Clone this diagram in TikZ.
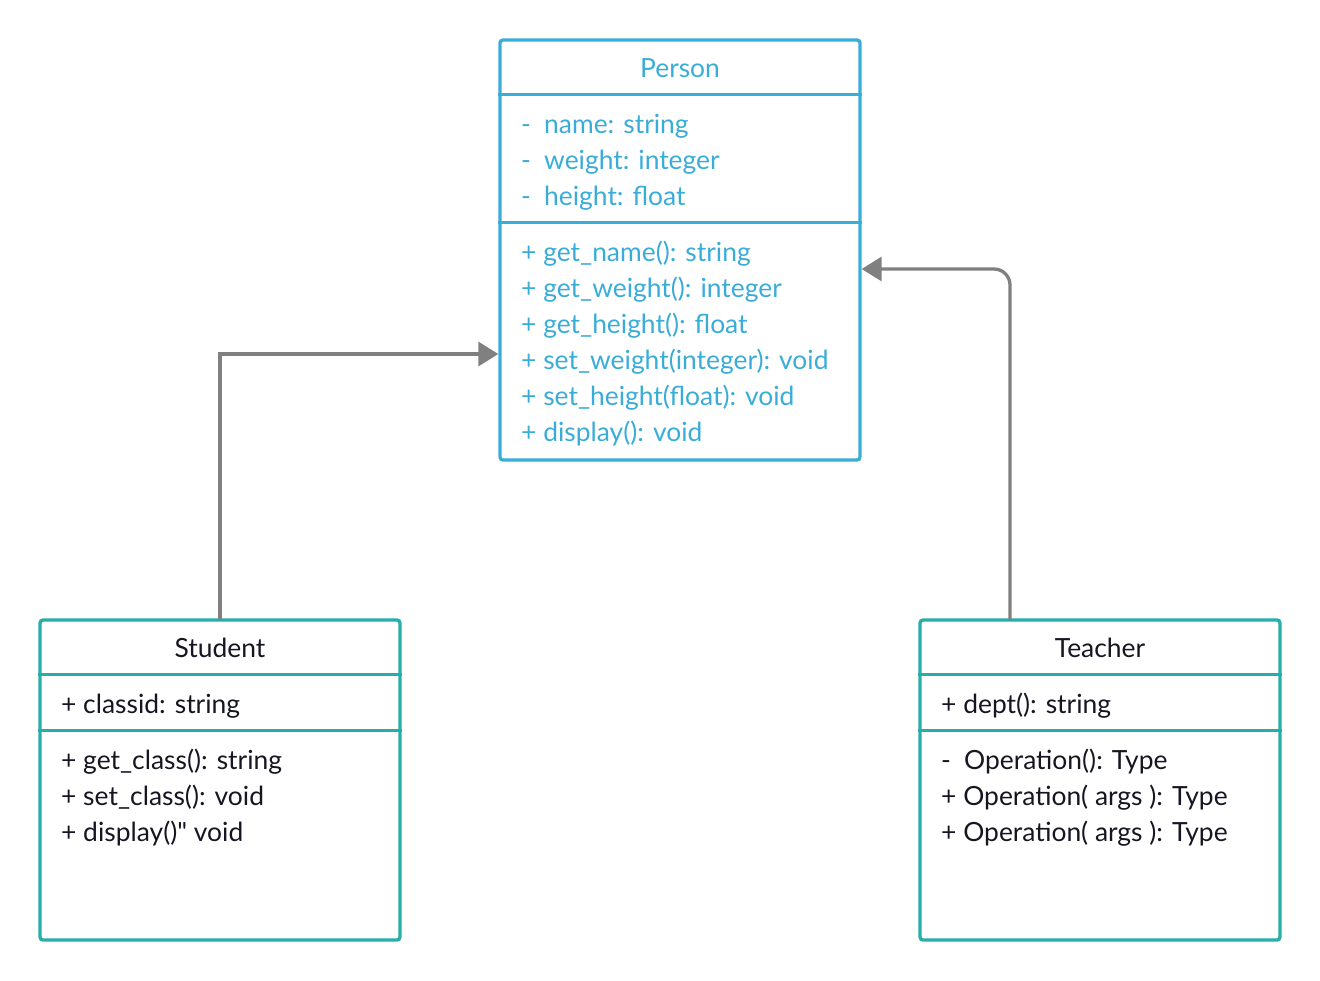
\documentclass[tikz,border=0pt]{standalone}
\usepackage{fontspec}
\setmainfont{Lato}
\newfontfamily\plainlato{Lato}
\usetikzlibrary{arrows.meta}
\definecolor{pblue}{RGB}{58,172,216}
\definecolor{teal2}{RGB}{38,174,170}
\definecolor{ink}{RGB}{22,22,34}
\definecolor{conn}{RGB}{128,128,128}
\begin{document}
\begin{tikzpicture}[x=1bp,y=-1bp,
  umlbox/.style={draw, line width=3.3bp, rounded corners=3bp, inner sep=0pt, minimum width=360bp},
  sep/.style={line width=3.3bp},
  txt/.style={inner sep=0pt, anchor=mid west, font=\fontsize{26.5}{30}\selectfont},
  ttl/.style={inner sep=0pt, anchor=mid, font=\fontsize{26.5}{30}\selectfont},
  conn/.style={draw=conn, line width=3.3bp, -{Triangle[length=20bp,width=24bp]}}
]
\useasboundingbox (0,0) rectangle (1320,980);
% Person
\node[umlbox, draw=pblue, minimum height=420bp] (person) at (680,250) {};
\draw[pblue, sep] ([yshift=-56bp]person.north west) -- ([yshift=-56bp]person.north east);
\draw[pblue, sep] ([yshift=-184bp]person.north west) -- ([yshift=-184bp]person.north east);
\node[ttl, pblue] (ptitle) at (680,75) {Person};
\node[txt, pblue] (pa1) at (521,131) {\makebox[23bp][l]{-}name: string};
\node[txt, pblue] (pa2) at (521,167) {\makebox[23bp][l]{-}weight: integer};
\node[txt, pblue] (pa3) at (521,203) {\makebox[23bp][l]{-}height: float};
\node[txt, pblue] (pm1) at (521,259) {+ get\_name(): string};
\node[txt, pblue] (pm2) at (521,295) {+ get\_weight(): integer};
\node[txt, pblue] (pm3) at (521,331) {+ get\_height(): float};
\node[txt, pblue] (pm4) at (521,367) {+ set\_weight(integer): void};
\node[txt, pblue] (pm5) at (521,403) {+ set\_height(float): void};
\node[txt, pblue] (pm6) at (521,439) {+ display(): void};
% Student
\node[umlbox, draw=teal2, minimum height=320bp] (student) at (220,780) {};
\draw[teal2, sep] ([yshift=-56bp]student.north west) -- ([yshift=-56bp]student.north east);
\draw[teal2, sep] ([yshift=-112bp]student.north west) -- ([yshift=-112bp]student.north east);
\node[ttl, ink] (stitle) at (220,655) {Student};
\node[txt, ink] (sa1) at (61,711) {+ classid: string};
\node[txt, ink] (sm1) at (61,767) {+ get\_class(): string};
\node[txt, ink] (sm2) at (61,803) {+ set\_class(): void};
\node[txt, ink] (sm3) at (61,839) {+ display(){\plainlato"} void};
% Teacher
\node[umlbox, draw=teal2, minimum height=320bp] (teacher) at (1100,780) {};
\draw[teal2, sep] ([yshift=-56bp]teacher.north west) -- ([yshift=-56bp]teacher.north east);
\draw[teal2, sep] ([yshift=-112bp]teacher.north west) -- ([yshift=-112bp]teacher.north east);
\node[ttl, ink] (ttitle) at (1100,655) {Teacher};
\node[txt, ink] (ta1) at (941,711) {+ dept(): string};
\node[txt, ink] (tm1) at (941,767) {\makebox[23bp][l]{-}Operation(): Type};
\node[txt, ink] (tm2) at (941,803) {+ Operation( args ): Type};
\node[txt, ink] (tm3) at (941,839) {+ Operation( args ): Type};
% connectors
\draw[conn] ([yshift=-1.6bp]student.north) |- ([yshift=-104bp]person.west);
\draw[conn, rounded corners=16bp] ([xshift=-90bp,yshift=-1.6bp]teacher.north) |- ([yshift=-19bp]person.east);
\end{tikzpicture}
\end{document}
